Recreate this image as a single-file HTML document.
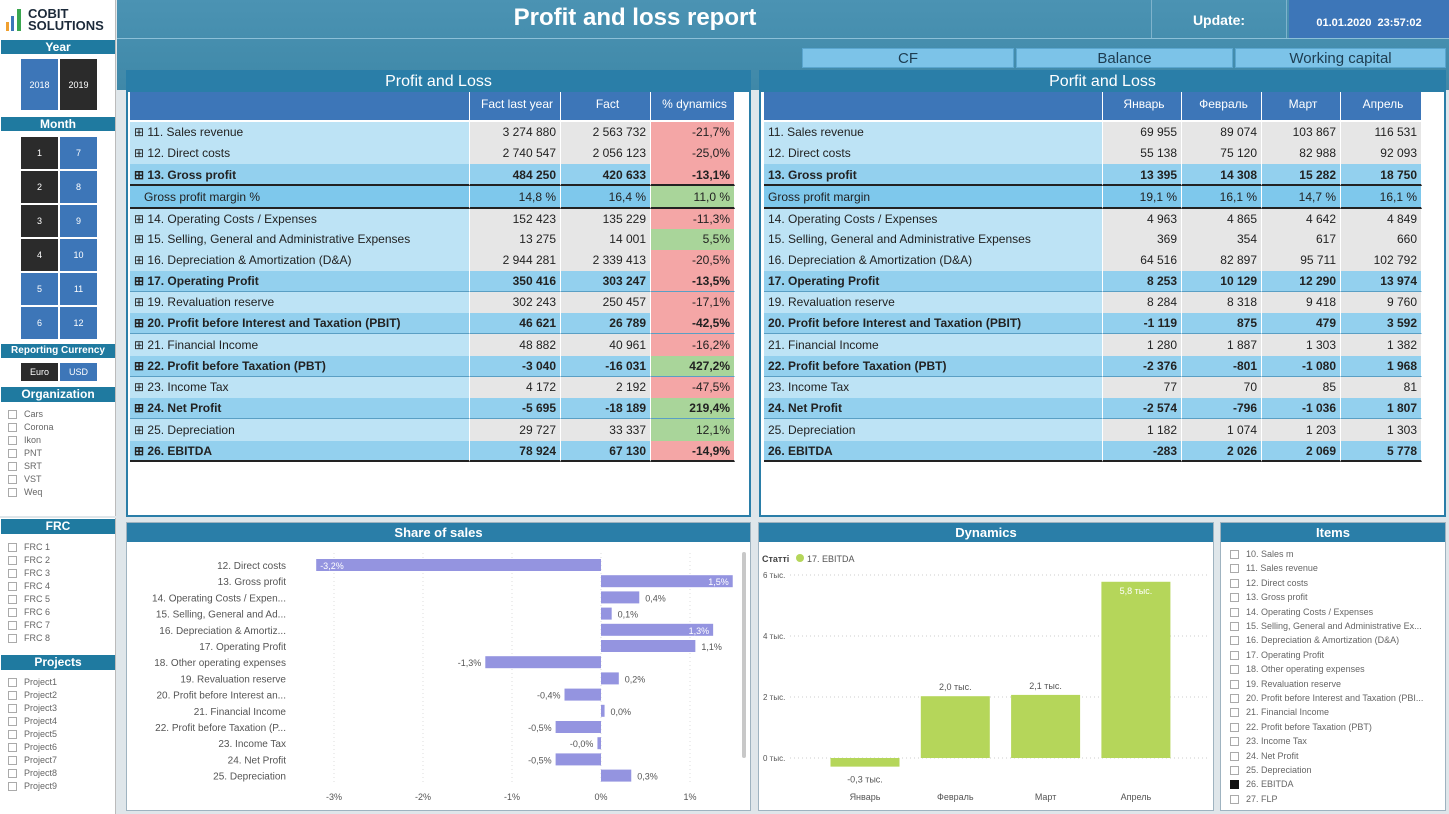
<!DOCTYPE html>
<html><head><meta charset="utf-8">
<style>
*{box-sizing:border-box;margin:0;padding:0}
body{width:1449px;height:814px;overflow:hidden;position:relative;background:#dfe6ea;font-family:"Liberation Sans","Noto Sans CJK SC",sans-serif;color:#222}
.abs{position:absolute}
.hdr{position:absolute;background:#1f7aa0;color:#fff;font-weight:bold;text-align:center;font-size:12px;line-height:14px}
.btn{position:absolute;color:#fff;font-size:9px;display:flex;align-items:center;justify-content:center}
.dk{background:#2b2b2b}.bl{background:#3d76b8}
.chk{position:absolute;font-size:9px;color:#666;padding-left:16px;line-height:10px;white-space:nowrap}
.chk:before{content:"";position:absolute;left:0;top:1px;width:7px;height:7px;border:1px solid #aaa;background:#fff}
.chk.sel:before{background:#111;border-color:#111}
.panel{position:absolute;background:#fff;border:1px solid #9fb3c0}
.ptitle{position:absolute;left:0;right:0;top:0;height:20px;background:#2a7ea8;color:#fff;text-align:center;font-size:16px;line-height:20px}
.stitle{position:absolute;left:0;right:0;top:0;height:19px;background:#2a7ea8;color:#fff;text-align:center;font-size:13px;font-weight:bold;line-height:19px}
.cell{position:absolute;font-size:12px;line-height:20px;white-space:nowrap;overflow:hidden;border-right:1px solid #fff}
.tab{position:absolute;top:48px;height:20px;background:#7cc3e8;color:#1d3c50;font-size:15px;text-align:center;line-height:20px;border:1px solid #5aa6cf}
</style></head><body>
<!-- sidebar -->
<div class="abs" style="left:0;top:0;width:116px;height:516px;background:#fff;border-right:1px solid #bbb"></div>
<div class="abs" style="left:0;top:518px;width:116px;height:296px;background:#fff;border-right:1px solid #bbb"></div>
<div class="abs" style="left:6px;top:8px">
 <div class="abs" style="left:0;top:14px;width:3px;height:9px;background:#f0a030"></div>
 <div class="abs" style="left:5px;top:8px;width:3px;height:15px;background:#3d76b8"></div>
 <div class="abs" style="left:11px;top:1px;width:4px;height:22px;background:#3aa650"></div>
 <div class="abs" style="left:22px;top:0;font-size:13px;font-weight:bold;line-height:12px;color:#1c2a3a;width:90px">COBIT<br>SOLUTIONS</div>
</div>
<div class="hdr" style="left:1px;top:40px;width:114px;height:14px">Year</div>
<div class="btn bl" style="left:21px;top:59px;width:37px;height:51px">2018</div>
<div class="btn dk" style="left:60px;top:59px;width:37px;height:51px">2019</div>
<div class="hdr" style="left:1px;top:117px;width:114px;height:14px">Month</div>
<div id="months"></div>
<div class="hdr" style="left:1px;top:344px;width:114px;height:14px;font-size:10px">Reporting Currency</div>
<div class="btn dk" style="left:21px;top:363px;width:37px;height:18px">Euro</div>
<div class="btn bl" style="left:60px;top:363px;width:37px;height:18px">USD</div>
<div class="hdr" style="left:1px;top:387px;width:114px;height:15px">Organization</div>
<div class="hdr" style="left:1px;top:519px;width:114px;height:15px">FRC</div>
<div class="hdr" style="left:1px;top:655px;width:114px;height:15px">Projects</div>
<div id="checks"></div>

<!-- top header -->
<div class="abs" style="left:117px;top:0;width:1332px;height:90px;background:linear-gradient(#4b93b3,#3f88a8)"></div>
<div class="abs" style="left:117px;top:38px;width:1332px;height:1px;background:#8cc0d8"></div>
<div class="abs" style="left:117px;top:4px;width:1036px;text-align:center;color:#fff;font-size:24px;font-weight:bold">Profit and loss report</div>
<div class="abs" style="left:1151px;top:0;width:136px;height:38px;border-left:1px solid #7fb3cc;border-right:1px solid #7fb3cc;color:#fff;font-weight:bold;font-size:14px;line-height:40px;text-align:center">Update:</div>
<div class="abs" style="left:1289px;top:0;width:160px;height:38px;background:#3d76b8;color:#fff;font-weight:bold;font-size:11px;line-height:46px;text-align:center">01.01.2020&nbsp; 23:57:02</div>
<div class="tab" style="left:802px;width:212px">CF</div>
<div class="tab" style="left:1016px;width:217px">Balance</div>
<div class="tab" style="left:1235px;width:211px">Working capital</div>

<!-- P&L panels -->
<div class="panel" style="left:126px;top:70px;width:625px;height:447px;border:2px solid #2a7ea8"><div class="ptitle">Profit and Loss</div></div>
<div class="panel" style="left:759px;top:70px;width:687px;height:447px;border:2px solid #2a7ea8"><div class="ptitle">Porfit and Loss</div></div>
<div id="tables"></div>

<!-- bottom panels -->
<div class="panel" style="left:126px;top:522px;width:625px;height:289px"><div class="stitle">Share of sales</div></div>
<div class="panel" style="left:758px;top:522px;width:456px;height:289px"><div class="stitle">Dynamics</div></div>
<div class="panel" style="left:1220px;top:522px;width:226px;height:289px"><div class="stitle">Items</div></div>
<div class="abs" style="left:742px;top:552px;width:4px;height:206px;background:#c8c8c8;border-radius:2px"></div>
<div id="items"></div>
<svg class="abs" style="left:0;top:0" width="1449" height="814" id="charts"></svg>

<script>
// ---------- sidebar ----------
const months=[1,2,3,4,5,6,7,8,9,10,11,12];
const selectedMonths=[1,2,3,4];
const orgs=["Cars","Corona","Ikon","PNT","SRT","VST","Weq"];
const frcs=["FRC 1","FRC 2","FRC 3","FRC 4","FRC 5","FRC 6","FRC 7","FRC 8"];
const projects=["Project1","Project2","Project3","Project4","Project5","Project6","Project7","Project8","Project9"];
const mEl=document.getElementById('months');
months.forEach((m,i)=>{
 const d=document.createElement('div');
 d.className='btn '+(selectedMonths.includes(m)?'dk':'bl');
 d.style.left=(i<6?21:60)+'px';d.style.top=(137+(i%6)*34)+'px';d.style.width='37px';d.style.height='32px';
 d.textContent=m;
 
 
 mEl.appendChild(d);
});
const cEl=document.getElementById('checks');
function addChecks(list,y0,step,prefix){
 list.forEach((t,i)=>{
  const d=document.createElement('div');
  d.className='chk';d.style.left='8px';d.style.top=(y0+i*step)+'px';d.textContent=t;
  
  
  cEl.appendChild(d);
 });
}
addChecks(orgs,409,13,'organization');
addChecks(frcs,542,13,'frc');
addChecks(projects,677,13,'project');

// ---------- tables ----------
const rowLabels=["11. Sales revenue","12. Direct costs","13. Gross profit","Gross profit margin %","14. Operating Costs / Expenses","15. Selling, General and Administrative Expenses","16. Depreciation & Amortization (D&A)","17. Operating Profit","19. Revaluation reserve","20. Profit before Interest and Taxation (PBIT)","21. Financial Income","22. Profit before Taxation (PBT)","23. Income Tax","24. Net Profit","25. Depreciation","26. EBITDA"];
const boldRows=[2,7,9,11,13,15];
const rowTops=[122,143,164,186,209,229,250,271,292,313,334,356,377,398,419,441];
const factLast=["3 274 880","2 740 547","484 250","14,8 %","152 423","13 275","2 944 281","350 416","302 243","46 621","48 882","-3 040","4 172","-5 695","29 727","78 924"];
const factNow=["2 563 732","2 056 123","420 633","16,4 %","135 229","14 001","2 339 413","303 247","250 457","26 789","40 961","-16 031","2 192","-18 189","33 337","67 130"];
const dynamics=["-21,7%","-25,0%","-13,1%","11,0 %","-11,3%","5,5%","-20,5%","-13,5%","-17,1%","-42,5%","-16,2%","427,2%","-47,5%","219,4%","12,1%","-14,9%"];
const dynPositive=[false,false,false,true,false,true,false,false,false,false,false,true,false,true,true,false];
const jan=["69 955","55 138","13 395","19,1 %","4 963","369","64 516","8 253","8 284","-1 119","1 280","-2 376","77","-2 574","1 182","-283"];
const feb=["89 074","75 120","14 308","16,1 %","4 865","354","82 897","10 129","8 318","875","1 887","-801","70","-796","1 074","2 026"];
const mar=["103 867","82 988","15 282","14,7 %","4 642","617","95 711","12 290","9 418","479","1 303","-1 080","85","-1 036","1 203","2 069"];
const apr=["116 531","92 093","18 750","16,1 %","4 849","660","102 792","13 974","9 760","3 592","1 382","1 968","81","1 807","1 303","5 778"];
const rightLabels=rowLabels.map(s=>s==="Gross profit margin %"?"Gross profit margin":s);
const tEl=document.getElementById('tables');
function cell(x,y,w,h,txt,bg,align,bold,name){
 const d=document.createElement('div');
 d.className='cell';
 d.style.left=x+'px';d.style.top=y+'px';d.style.width=w+'px';d.style.height=h+'px';
 d.style.background=bg;d.style.textAlign=align;d.style.lineHeight=h+'px';
 d.style.padding=align==='right'?'0 4px 0 0':'0 0 0 4px';
 if(bold)d.style.fontWeight='bold';
 d.textContent=txt;
 
 
 tEl.appendChild(d);return d;
}
function header(x,y,w,txt,name){
 const d=cell(x,y,w,28,txt,'#3d76b8','center',false,name);
 d.style.color='#fff';d.style.lineHeight='24px';d.style.fontSize='12px';
}
function buildTable(x0,cols,labels,colsData,withPlus,isLeft){
 const lw=cols[0];
 header(x0,92,lw,'','table-header-blank');
 let x=x0+lw;
 colsData.forEach((c,ci)=>{header(x,92,cols[ci+1],c.title,'column-header');x+=cols[ci+1];});
 labels.forEach((lab,i)=>{
  const y=rowTops[i];
  const h=(i<15?rowTops[i+1]:462)-y;
  const bold=boldRows.includes(i);
  const rowBg=bold?'#93d0ee':(i===3?'#7ec8ec':'#bde3f5');
  const lc=cell(x0,y,lw,h,(withPlus&&i!==3?'⊞ ':(i===3&&isLeft?'   ':''))+lab,rowBg,'left',bold,'row-label');
  lc.style.whiteSpace='pre';
  if(bold||i===3){lc.style.borderBottom=(i===2||i===15||i===3)?'2px solid #222':'1px solid #5a9fc4';}
  let xx=x0+lw;
  colsData.forEach((c,ci)=>{
   let bg=(bold||i===3)?rowBg:'#e6e6e6';
   if(c.dyn)bg=dynPositive[i]?'#a9d59a':'#f4a6a6';
   const vc=cell(xx,y,cols[ci+1],h,c.vals[i],bg,'right',bold,'row-value');
   if(bold||i===3){vc.style.borderBottom=(i===2||i===15||i===3)?'2px solid #222':'1px solid #5a9fc4';}
   xx+=cols[ci+1];
  });
 });
}
buildTable(130,[340,91,90,84],rowLabels,[{title:'Fact last year',vals:factLast},{title:'Fact',vals:factNow},{title:'% dynamics',vals:dynamics,dyn:true}],true,true);
buildTable(764,[339,79,80,79,81],rightLabels,[{title:'Январь',vals:jan},{title:'Февраль',vals:feb},{title:'Март',vals:mar},{title:'Апрель',vals:apr}],false,false);

// ---------- charts ----------
const NS='http://www.w3.org/2000/svg';
const svg=document.getElementById('charts');
function el(tag,attrs,parent){const e=document.createElementNS(NS,tag);for(const k in attrs)e.setAttribute(k,attrs[k]);(parent||svg).appendChild(e);return e;}
function txt(x,y,s,attrs,name){const t=el('text',Object.assign({x:x,y:y,'font-family':'Liberation Sans, sans-serif','font-size':10,fill:'#555'},attrs));t.textContent=s;return t;}

// Share of sales
const shareCats=["12. Direct costs","13. Gross profit","14. Operating Costs / Expen...","15. Selling, General and Ad...","16. Depreciation & Amortiz...","17. Operating Profit","18. Other operating expenses","19. Revaluation reserve","20. Profit before Interest an...","21. Financial Income","22. Profit before Taxation (P...","23. Income Tax","24. Net Profit","25. Depreciation"];
const shareVals=[-3.2,1.48,0.43,0.12,1.26,1.06,-1.3,0.2,-0.41,0.04,-0.51,-0.04,-0.51,0.34];
const shareLabels=["-3,2%","1,5%","0,4%","0,1%","1,3%","1,1%","-1,3%","0,2%","-0,4%","0,0%","-0,5%","-0,0%","-0,5%","0,3%"];
const shareTicks=[-3,-2,-1,0,1];
const sx=v=>601+v*89;
const sy=i=>565+i*16.2;
shareTicks.forEach(t=>{
 const l=el('line',{x1:sx(t),x2:sx(t),y1:553,y2:785,stroke:'#ddd','stroke-dasharray':'1,3'});
 
 txt(sx(t),800,(t<0?'-':'')+Math.abs(t)+'%',{'text-anchor':'middle','font-size':9},'share-x-tick');
});
shareCats.forEach((c,i)=>{
 const v=shareVals[i],y=sy(i);
 txt(286,y+4,c,{'text-anchor':'end','font-size':10},'share-category-label');
 const r=el('rect',{x:Math.min(sx(0),sx(v)),y:y-6,width:Math.max(2,Math.abs(sx(v)-sx(0))),height:12,fill:'#9494e0'});
 
 const inside=(v>1.2)||(v<-2);
 let lx,anchor,fill='#555';
 if(inside){fill='#fff';if(v<0){lx=sx(v)+4;anchor='start';}else{lx=sx(v)-4;anchor='end';}}
 else{if(v<0){lx=sx(v)-4;anchor='end';}else{lx=sx(v)+6;anchor='start';}}
 txt(lx,y+4,shareLabels[i],{'text-anchor':anchor,'font-size':9,fill:fill},'share-value-label');
});

// Dynamics
const dynCats=["Январь","Февраль","Март","Апрель"];
const dynVals=[-0.283,2.026,2.069,5.778];
const dynLabels=["-0,3 тыс.","2,0 тыс.","2,1 тыс.","5,8 тыс."];
const dynTicks=[0,2,4,6];
const dy=v=>758-v*30.5;
const dx=i=>865+i*90.3;
txt(762,562,'Статті',{'font-size':9,'font-weight':'bold',fill:'#444'},'dynamics-legend-title');
const lc=el('circle',{cx:800,cy:558,r:4,fill:'#b5d65a'});
txt(807,562,'17. EBITDA',{'font-size':9},'dynamics-legend-label');
dynTicks.forEach(t=>{
 const l=el('line',{x1:790,x2:1208,y1:dy(t),y2:dy(t),stroke:'#ccc','stroke-dasharray':'1,3'});
 
 txt(763,dy(t)+3,t+' тыс.',{'font-size':8},'dynamics-y-tick');
});
dynCats.forEach((c,i)=>{
 const v=dynVals[i],x=dx(i);
 const r=el('rect',{x:x-34.5,y:Math.min(dy(0),dy(v)),width:69,height:Math.abs(dy(v)-dy(0)),fill:'#b5d65a'});
 
 txt(x,800,c,{'text-anchor':'middle','font-size':9},'dynamics-x-label');
 let ly,fill='#555';
 if(v<0)ly=dy(v)+16;else if(v>4){ly=dy(v)+12;fill='#fff';}else ly=dy(v)-6;
 txt(x,ly,dynLabels[i],{'text-anchor':'middle','font-size':9,fill:fill},'dynamics-value-label');
});

// Items
const itemsList=["10. Sales m","11. Sales revenue","12. Direct costs","13. Gross profit","14. Operating Costs / Expenses","15. Selling, General and Administrative Ex...","16. Depreciation & Amortization (D&A)","17. Operating Profit","18. Other operating expenses","19. Revaluation reserve","20. Profit before Interest and Taxation (PBI...","21. Financial Income","22. Profit before Taxation (PBT)","23. Income Tax","24. Net Profit","25. Depreciation","26. EBITDA","27. FLP"];
const itemsSelected=["26. EBITDA"];
const iEl=document.getElementById('items');
itemsList.forEach((t,i)=>{
 const d=document.createElement('div');
 d.className='chk'+(itemsSelected.includes(t)?' sel':'');
 d.style.left='1230px';d.style.top=(549+i*14.4)+'px';d.textContent=t;
 
 
 iEl.appendChild(d);
});
</script>
</body></html>
